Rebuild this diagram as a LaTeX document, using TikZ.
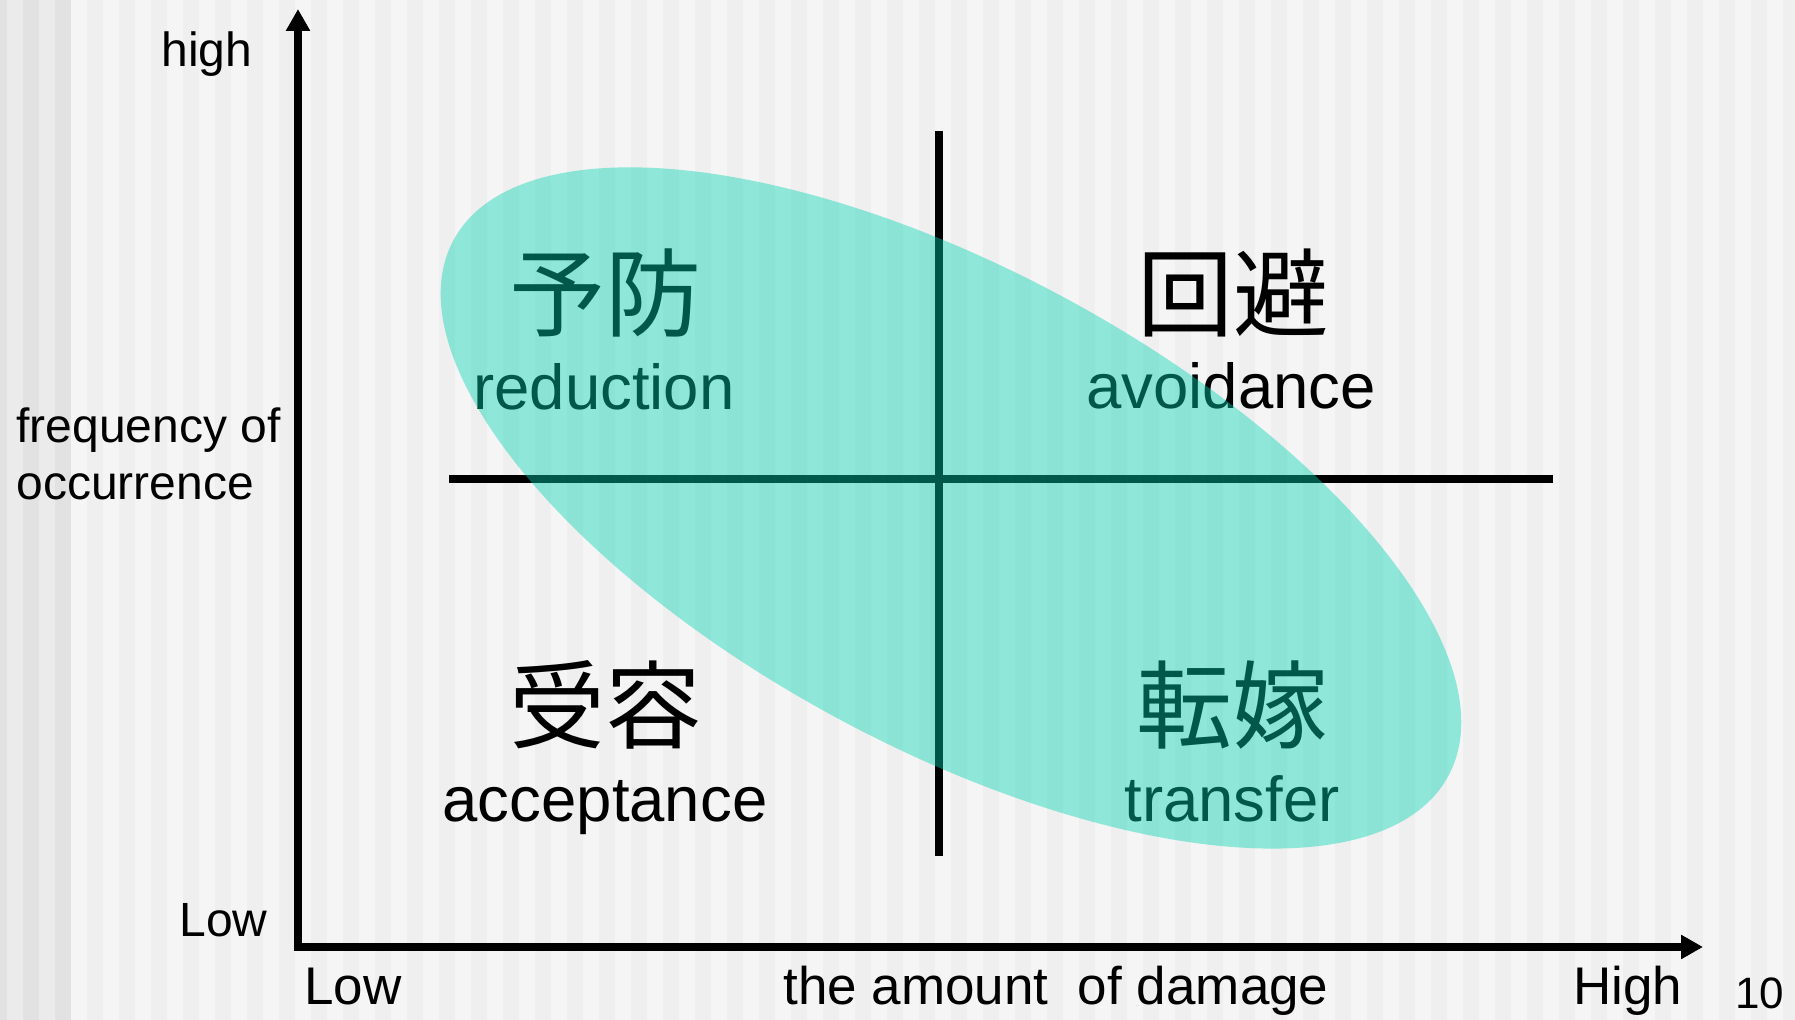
\documentclass[tikz,border=0pt]{standalone}
\usepackage{fontspec}
\setmainfont{Liberation Sans}
\newfontfamily\cjk{Noto Sans CJK JP}
\usetikzlibrary{arrows.meta}
\definecolor{bgA}{RGB}{239,239,239}
\definecolor{bgB}{RGB}{245,245,245}
\definecolor{bgC}{RGB}{226,226,226}
\definecolor{bgD}{RGB}{235,235,235}
\definecolor{elfill}{RGB}{0,212,177}
\begin{document}
\begin{tikzpicture}[x=0.5pt,y=-0.5pt,
  axis/.style={line width=4pt,-{Triangle[length=11pt,width=11.5pt]}},
  divider/.style={line width=4pt},
  axlab/.style={inner sep=0pt,font=\fontsize{24}{28.5}\selectfont},
  xlab/.style={inner sep=0pt,anchor=base west,font=\fontsize{26.5}{31}\selectfont},
  en/.style={inner sep=0pt,anchor=base,font=\fontsize{31.75}{38}\selectfont},
  jp/.style={inner sep=0pt,anchor=center,font=\cjk\fontsize{48}{56}\selectfont},
  zone/.style={fill=elfill,fill opacity=0.42}]
\useasboundingbox (0,0) rectangle (1795,1020);
\clip (0,0) rectangle (1795,1020);
% background stripes
\fill[bgA] (0,0) rectangle (1795,1020);
\foreach \k in {0,...,56} \fill[bgB] ({7+32*\k},0) rectangle ({23+32*\k},1020);
\fill[bgC] (0,0) rectangle (7,1020);
\fill[bgD] (7,0) rectangle (23,1020);
\fill[bgC] (23,0) rectangle (39,1020);
\fill[bgD] (39,0) rectangle (55,1020);
\fill[bgC] (55,0) rectangle (71,1020);
% axes
\coordinate (O) at (298,947);
\coordinate (Ob) at (298,951);
\coordinate (Ol) at (294,947);
\coordinate (ytip) at (298,9);
\coordinate (xtip) at (1703,947);
\draw[axis] (Ob) -- (ytip);
\draw[axis] (Ol) -- (xtip);
% axis labels
\node[axlab,anchor=base west] (yhigh) at (161,67) {high};
\node[axlab,anchor=base west,align=left] (ytitle) at (16,500) {frequency of\\occurrence};
\node[axlab,anchor=base west] (ylow) at (179,937) {Low};
\node[xlab] (xlow) at (304,1005) {Low};
\node[xlab] (xtitle) at (783,1005) {the amount\ \ of damage};
\node[xlab] (xhigh) at (1573,1005) {High};
\node[inner sep=0pt,anchor=base west,font=\fontsize{22}{26}\selectfont] (pagenum) at (1735,1008) {10};
% dividers
\coordinate (vt) at (939,131);
\coordinate (vb) at (939,856);
\coordinate (hl) at (449,479);
\coordinate (hr) at (1553,479);
\draw[divider] (vt) -- (vb);
\draw[divider] (hl) -- (hr);
% quadrant labels
\node[jp] (q1jp) at (605,293) {予防};
\node[en] (q1en) at (604,410) {reduction};
\node[jp] (q2jp) at (1233,293) {回避};
\node[en] (q2en) at (1231,409) {avoidance};
\node[jp] (q3jp) at (605,705) {受容};
\node[en] (q3en) at (605,822) {acceptance};
\node[jp] (q4jp) at (1232,705) {転嫁};
\node[en] (q4en) at (1232,822) {transfer};
% translucent ellipse
\coordinate (ec) at (951,508);
\fill[zone,rotate around={-28.3:(ec)}] (ec) ellipse [x radius=282.5pt, y radius=119.5pt];
\end{tikzpicture}
\end{document}
